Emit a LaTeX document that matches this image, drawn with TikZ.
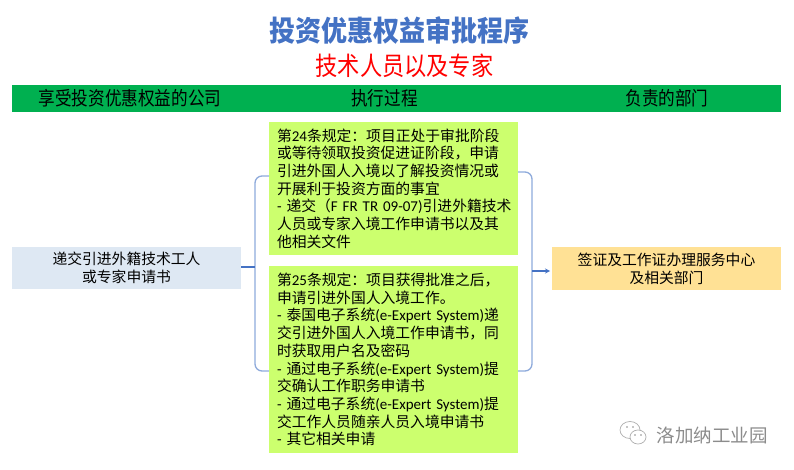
\documentclass[tikz,border=0pt]{standalone}
\usepackage{fontspec}
\setmainfont{Noto Sans CJK SC}
\newfontfamily\latfont{Carlito}
\newcommand{\lat}[1]{\mbox{\latfont\fontsize{15}{17.7}\selectfont #1}}
\definecolor{titleblue}{HTML}{4472C4}
\definecolor{bargreen}{HTML}{00B050}
\definecolor{boxgreen}{HTML}{CCFF6E}
\definecolor{boxblue}{HTML}{DEE8F3}
\definecolor{boxyellow}{HTML}{FFE195}
\definecolor{bracketblue}{HTML}{8EAADB}
\definecolor{markgray}{HTML}{8C8C8C}

\begin{document}
\begin{tikzpicture}[x=1pt,y=-1pt]
    \tikzstyle{headtext}=[font=\fontsize{16.6}{20}\selectfont, inner sep=0pt, yscale=1.15, transform shape]
    \tikzstyle{bodybox}=[font=\fontsize{14.8}{17.7}\selectfont, inner sep=0pt, align=center]
    \tikzstyle{rulebox}=[fill=boxgreen, font=\fontsize{14.8}{17.7}\selectfont, inner ysep=0pt, inner xsep=0pt, minimum width=249pt, text width=233pt, align=left]
    \tikzstyle{bracket}=[draw=bracketblue, line width=1.3pt, rounded corners=7pt]
    \useasboundingbox (0,0) rectangle (794,470);

    \node[font=\bfseries\fontsize{26}{30}\selectfont, text=titleblue, inner sep=0pt, yscale=1.1, transform shape] (title) at (399,30) {投资优惠权益审批程序};
    \node[font=\fontsize{22.2}{27}\selectfont, text=red, inner sep=0pt, yscale=1.15, transform shape] (subtitle) at (404.5,65.5) {技术人员以及专家};

    % column heads
    \fill[bargreen] (12,85) rectangle (781,112);
    \node[headtext] (headcompany) at (130,98.5) {享受投资优惠权益的公司};
    \node[headtext] (headprocess) at (384.5,98.5) {执行过程};
    \node[headtext] (headdept) at (667,98.5) {负责的部门};

    % boxes
    \node[bodybox, fill=boxblue, minimum width=229pt, minimum height=42pt] (request) at (126.5,268) {递交引进外籍技术工人\\或专家申请书};
    \node[bodybox, fill=boxyellow, minimum width=229pt, minimum height=43pt] (dept) at (666.5,268.5) {签证及工作证办理服务中心\\及相关部门};

    \node[rulebox, minimum height=133pt] (rule24) at (393.5,188.5) {%
        第\lat{24}条规定：项目正处于审批阶段\\
        或等待领取投资促进证阶段，申请\\
        引进外国人入境以了解投资情况或\\
        开展利于投资方面的事宜\\
        \mbox{\lat{-} 递交（\lat{F FR TR 09-07)}引进外籍技术}\\
        人员或专家入境工作申请书以及其\\
        他相关文件};
    \node[rulebox, minimum height=187pt] (rule25) at (393.5,359.5) {%
        第\lat{25}条规定：项目获得批准之后，\\
        申请引进外国人入境工作。\\
        \lat{-} 泰国电子系统\lat{(e-Expert System)}递\\
        交引进外国人入境工作申请书，同\\
        时获取用户名及密码\\
        \lat{-} 通过电子系统\lat{(e-Expert System)}提\\
        交确认工作职务申请书\\
        \lat{-} 通过电子系统\lat{(e-Expert System)}提\\
        交工作人员随亲人员入境申请书\\
        \lat{-} 其它相关申请};

    % brackets
    \coordinate (ltop) at (269,176);
    \coordinate (lbot) at (269,371);
    \coordinate (lup) at (255,176);
    \coordinate (ldown) at (255,371);
    \coordinate (lmid) at (255,267);
    \coordinate (rtop) at (518,172);
    \coordinate (rbot) at (518,371);
    \coordinate (rup) at (532,172);
    \coordinate (rdown) at (532,371);
    \coordinate (rmid) at (532,271);
    \coordinate (rtip) at (550,271);
    \draw[bracket] (ltop) -- (lup) -- (ldown) -- (lbot);
    \draw[bracket] (rtop) -- (rup) -- (rdown) -- (rbot);
    \draw[draw=titleblue, line width=1.2pt] (request.east |- lmid) -- (lmid);
    \draw[draw=titleblue, line width=1.2pt, ->, >=stealth] (rmid) -- (rtip);

    % mark at the bottom
    \node[font=\fontsize{18.5}{22}\selectfont, text=markgray, inner sep=0pt] (marktext) at (712,435) {洛加纳工业园};
    \draw[markgray!70, line width=0.7pt, fill=white] (630,430) ellipse (10pt and 8.5pt);
    \draw[markgray!70, line width=0.7pt, fill=white] (638,437) ellipse (8pt and 7pt);
    \fill[markgray] (627,427) circle (0.8pt) (633,427) circle (0.8pt) (635,435) circle (0.8pt) (641,435) circle (0.8pt);
\end{tikzpicture}
\end{document}
